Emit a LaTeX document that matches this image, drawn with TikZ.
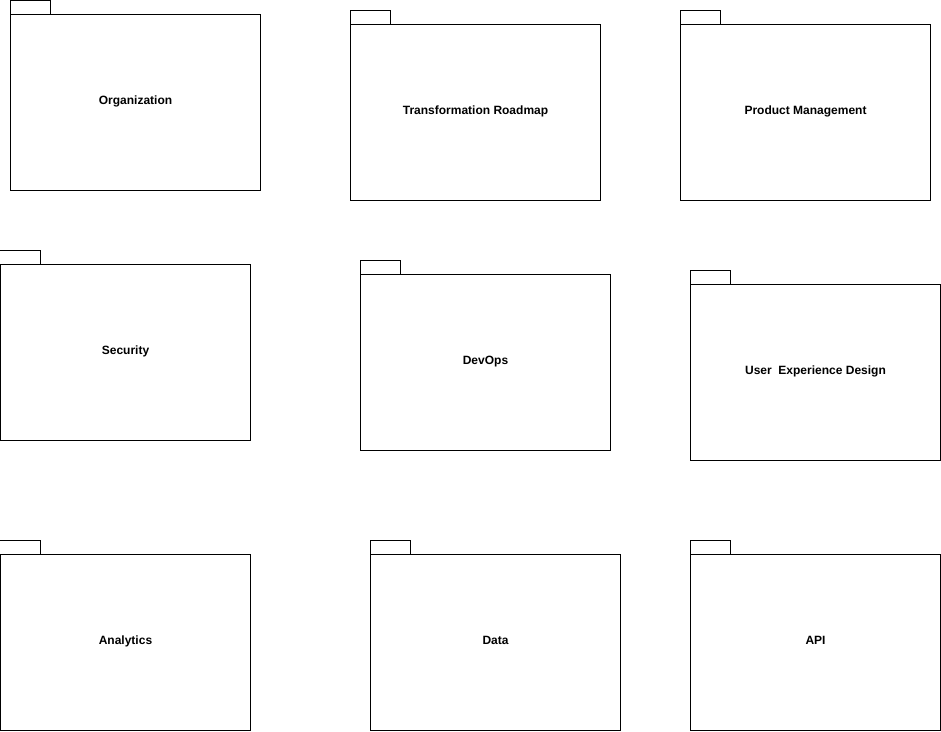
\documentclass[tikz,border=0pt]{standalone}
\usepackage{fontspec}
\setmainfont{Liberation Sans}
\tikzset{
  pkg/.style={draw, line width=1pt, minimum width=250pt, minimum height=176pt,
    inner sep=0pt, font=\fontsize{12}{14}\selectfont\bfseries,
    text depth=3pt, text height=7pt},
  pkgtab/.style={draw, line width=1pt}
}
\begin{document}
\begin{tikzpicture}[x=1pt,y=-1pt]
\useasboundingbox (-0.5,-0.5) rectangle (940.5,730.5);

% first row
\node[pkg] (org)  at (135,102) {Organization};
\node[pkg] (road) at (475,112) {Transformation Roadmap};
\node[pkg] (prod) at (805,112) {Product Management};

% second row
\node[pkg] (sec)    at (125,352) {Security};
\node[pkg] (devops) at (485,362) {DevOps};
\node[pkg] (ux)     at (815,372) {User~ Experience Design};

% third row
\node[pkg] (analytics) at (125,642) {Analytics};
\node[pkg] (data)      at (495,642) {Data};
\node[pkg] (api)       at (815,642) {API};

% package tabs
\foreach \p in {org,road,prod,sec,devops,ux,analytics,data,api}
  \draw[pkgtab] (\p.north west) rectangle +(40,-14);
\end{tikzpicture}
\end{document}
